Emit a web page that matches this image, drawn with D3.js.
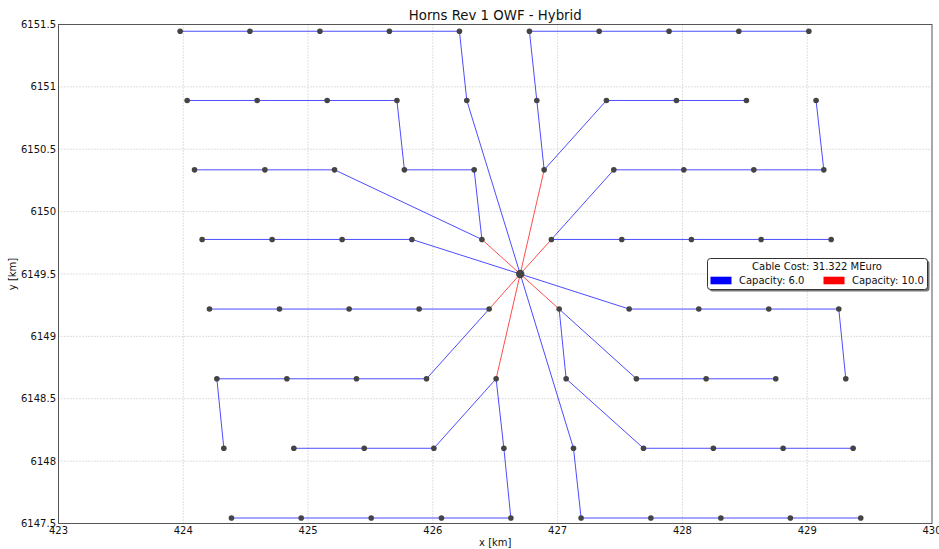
<!DOCTYPE html>
<html>
<head>
<meta charset="utf-8">
<script src="https://cdn.jsdelivr.net/npm/d3@7"></script>
<style>
  html, body { margin: 0; padding: 0; background: #fff; }
  svg { display: block; font-family: "DejaVu Sans", sans-serif; }
</style>
</head>
<body>
<svg id="chart" width="939" height="549"></svg>
<script>
// ---- Data ----
const title = "Horns Rev 1 OWF - Hybrid";
const xLabel = "x [km]";
const yLabel = "y [km]";
const xTicks = [423, 424, 425, 426, 427, 428, 429, 430];
const yTicks = [6147.5, 6148, 6148.5, 6149, 6149.5, 6150, 6150.5, 6151, 6151.5];

// turbine rows (top to bottom), y per row, x per column
const rowY = [6151.446, 6150.891, 6150.335, 6149.777, 6149.219, 6148.660, 6148.103, 6147.544];
const row1X = [423.975, 424.534, 425.095, 425.652, 426.213, 426.774, 427.333, 427.893, 428.452, 429.013];
const row2X = [424.031, 424.592, 425.153, 425.712, 426.272, 426.833, 427.391, 427.952, 428.513, 429.071];
const row3X = [424.090, 424.654, 425.212, 425.772, 426.331, 426.892, 427.450, 428.011, 428.572, 429.133];
const row4X = [424.151, 424.712, 425.273, 425.832, 426.393, 426.950, 427.514, 428.072, 428.631, 429.192];
const row5X = [424.210, 424.771, 425.329, 425.890, 426.451, 427.012, 427.573, 428.131, 428.692, 429.253];
const row6X = [424.269, 424.830, 425.388, 425.949, 426.507, 427.068, 427.631, 428.190, 428.748, 429.309];
const row7X = [424.325, 424.886, 425.450, 426.008, 426.569, 427.127, 427.688, 428.248, 428.807, 429.368];
const row8X = [424.386, 424.945, 425.506, 426.069, 426.625, 427.188, 427.747, 428.308, 428.865, 429.429];
const rowsX = [row1X, row2X, row3X, row4X, row5X, row6X, row7X, row8X];

const substation = { x: 426.70, y: 6149.50 };

// cable edges: "r,c" turbine ids (1-based) or "S" for substation; cable capacity
const edgeFrom = [
  "1,1","1,2","1,3","1,4","1,5","2,5",
  "1,6","1,7","1,8","1,9","1,10","2,6","2,7","2,8","2,9","3,6",
  "2,10","3,7","3,8","3,9","3,10","4,6","4,7","4,8","4,9","4,10",
  "2,1","2,2","2,3","2,4","3,4","3,5","3,1","3,2","3,3","4,5",
  "4,1","4,2","4,3","4,4",
  "5,1","5,2","5,3","5,4","6,1","6,2","6,3","6,4","7,1","5,5",
  "7,2","7,3","7,4","8,1","8,2","8,3","8,4","8,5","7,5","6,5",
  "8,6","8,7","8,8","8,9","8,10","7,6",
  "7,7","7,8","7,9","7,10","6,6","6,7","6,8","6,9","5,6",
  "5,7","5,8","5,9","5,10","6,10"
];
const edgeTo = [
  "1,2","1,3","1,4","1,5","2,5","S",
  "2,6","1,6","1,7","1,8","1,9","3,6","3,6","2,7","2,8","S",
  "3,10","4,6","3,7","3,8","3,9","S","4,6","4,7","4,8","4,9",
  "2,2","2,3","2,4","3,4","3,5","4,5","3,2","3,3","4,5","S",
  "4,2","4,3","4,4","S",
  "5,2","5,3","5,4","5,5","6,2","6,3","6,4","5,5","6,1","S",
  "7,3","7,4","6,5","8,2","8,3","8,4","8,5","7,5","6,5","S",
  "7,6","8,6","8,7","8,8","8,9","S",
  "6,6","7,7","7,8","7,9","5,6","5,6","6,7","6,8","S",
  "S","5,7","5,8","5,9","5,10"
];
const edgeCap = [
  6,6,6,6,6,6,
  6,6,6,6,6,6,6,6,6,10,
  6,6,6,6,6,10,6,6,6,6,
  6,6,6,6,6,6,6,6,6,10,
  6,6,6,6,
  6,6,6,6,6,6,6,6,6,10,
  6,6,6,6,6,6,6,6,6,10,
  6,6,6,6,6,6,
  6,6,6,6,6,6,6,6,10,
  6,6,6,6,6
];

const capacities = [6.0, 10.0];
const capColors = ["#0000ff", "#ff0000"];
const cableCost = "31.322";

// ---- Chart ----
const svg = d3.select("#chart");
const pL = 58.5, pR = 932, pT = 24.5, pB = 523.5;

const x = d3.scaleLinear().domain([423, 430]).range([pL, pR]);
const y = d3.scaleLinear().domain([6147.5, 6151.5]).range([pB, pT]);

function pos(id) {
  if (id === "S") return [x(substation.x), y(substation.y)];
  const [r, c] = id.split(",").map(Number);
  return [x(rowsX[r - 1][c - 1]), y(rowY[r - 1])];
}

// grid
const grid = svg.append("g");
grid.selectAll(".gx").data(xTicks.slice(1, -1)).join("line")
  .attr("x1", d => x(d)).attr("x2", d => x(d))
  .attr("y1", pT).attr("y2", pB)
  .attr("stroke", "#b0b0b0").attr("stroke-width", 0.8).attr("stroke-dasharray", "1,2");
grid.selectAll(".gy").data(yTicks.slice(1, -1)).join("line")
  .attr("x1", pL).attr("x2", pR)
  .attr("y1", d => y(d)).attr("y2", d => y(d))
  .attr("stroke", "#b0b0b0").attr("stroke-width", 0.8).attr("stroke-dasharray", "1,2");

// cables
const edges = edgeFrom.map((f, i) => ({ a: pos(f), b: pos(edgeTo[i]), cap: edgeCap[i] }));
const capColor = d3.scaleOrdinal().domain(capacities).range(capColors);
svg.append("g").selectAll("line").data(edges).join("line")
  .attr("x1", d => d.a[0]).attr("y1", d => d.a[1])
  .attr("x2", d => d.b[0]).attr("y2", d => d.b[1])
  .attr("stroke", d => capColor(d.cap))
  .attr("stroke-opacity", 0.7)
  .attr("stroke-width", 1);

// turbines
const turbines = [];
rowsX.forEach((xs, r) => xs.forEach(v => turbines.push({ x: v, y: rowY[r] })));
svg.append("g").selectAll("circle").data(turbines).join("circle")
  .attr("cx", d => x(d.x)).attr("cy", d => y(d.y)).attr("r", 2.8)
  .attr("fill", "#444");

// substation
svg.append("circle")
  .attr("cx", x(substation.x)).attr("cy", y(substation.y)).attr("r", 4.2)
  .attr("fill", "#444");

// frame
svg.append("rect")
  .attr("x", pL).attr("y", pT).attr("width", pR - pL).attr("height", pB - pT)
  .attr("fill", "none").attr("stroke", "#555").attr("stroke-width", 1);

// tick labels
svg.append("g").selectAll("text").data(xTicks).join("text")
  .attr("x", d => x(d)).attr("y", pB + 10.5)
  .attr("text-anchor", "middle").attr("font-size", 10).attr("fill", "#111")
  .text(d => String(d));
svg.append("g").selectAll("text").data(yTicks).join("text")
  .attr("x", pL - 2.5).attr("y", d => y(d) + 3.5)
  .attr("text-anchor", "end").attr("font-size", 10).attr("fill", "#111")
  .text(d => String(d));

// axis labels
svg.append("text").attr("x", (pL + pR) / 2).attr("y", 545.5)
  .attr("text-anchor", "middle").attr("font-size", 10).attr("fill", "#111").text(xLabel);
svg.append("text").attr("transform", `translate(16,${(pT + pB) / 2}) rotate(-90)`)
  .attr("text-anchor", "middle").attr("font-size", 10).attr("fill", "#111").text(yLabel);

// title
svg.append("text").attr("x", (pL + pR) / 2).attr("y", 20)
  .attr("text-anchor", "middle").attr("font-size", 13.3).attr("fill", "#111").text(title);

// legend
const lg = svg.append("g").attr("transform", "translate(707,258)");
lg.append("rect").attr("x", 2.5).attr("y", 2.5).attr("width", 220).attr("height", 31).attr("rx", 3)
  .attr("fill", "#777");
lg.append("rect").attr("x", 0.5).attr("y", 0.5).attr("width", 220).attr("height", 31).attr("rx", 3)
  .attr("fill", "#fff").attr("stroke", "#333").attr("stroke-width", 1);
lg.append("text").attr("x", 110).attr("y", 11.5).attr("text-anchor", "middle")
  .attr("font-size", 10).attr("fill", "#111").text(`Cable Cost: ${cableCost} MEuro`);
const itemX = [3.5, 116.5];
capacities.forEach((c, i) => {
  lg.append("rect").attr("x", itemX[i]).attr("y", 18.7).attr("width", 21).attr("height", 7.6)
    .attr("fill", capColors[i]);
  lg.append("text").attr("x", itemX[i] + 28.5).attr("y", 25.5)
    .attr("font-size", 10).attr("fill", "#111").text(`Capacity: ${c.toFixed(1)}`);
});
</script>
</body>
</html>
